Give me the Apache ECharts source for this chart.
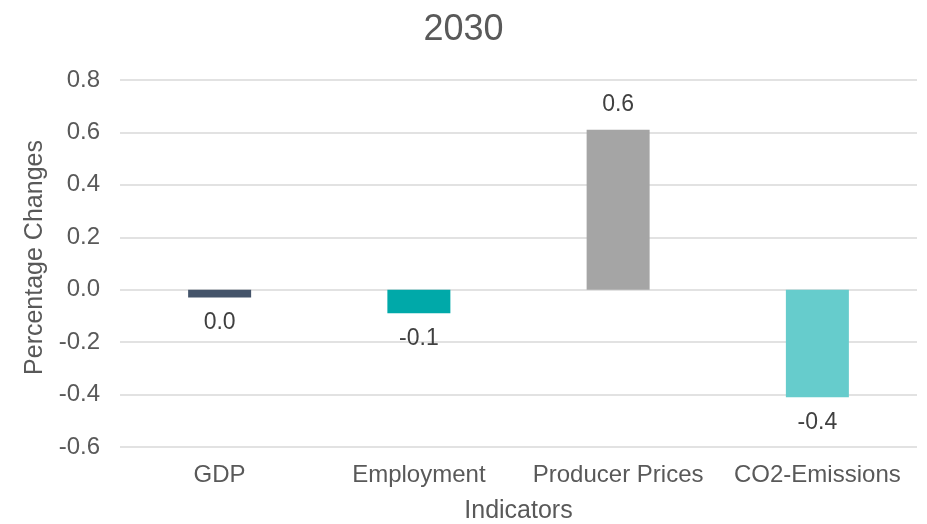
<!DOCTYPE html>
<html>
<head>
<meta charset="utf-8">
<script src="https://cdn.jsdelivr.net/npm/echarts@6/dist/echarts.min.js"></script>
<style>
  html, body { margin: 0; padding: 0; background: #fff; }
  #chart { width: 927px; height: 524px; }
</style>
</head>
<body>
<div id="chart"></div>
<script>
// data
const categories = ['GDP', 'Employment', 'Producer Prices', 'CO2-Emissions']
const values = [-0.03, -0.09, 0.61, -0.41]
const barColors = ['#44546A', '#00A9A9', '#A5A5A5', '#66CCCC']

const myChart = echarts.init(document.getElementById('chart'))
const font = 'Liberation Sans, Arial, sans-serif'

const option = {
  backgroundColor: '#fff',
  title: {
    text: '2030',
    left: 'center',
    top: 7,
    textStyle: { fontFamily: font, fontSize: 36, fontWeight: 'normal', color: '#595959' },
  },
  grid: { left: 120, right: 10, top: 80, bottom: 77, outerBoundsMode: 'none' },
  xAxis: {
    type: 'category',
    data: categories,
    name: 'Indicators',
    nameLocation: 'middle',
    nameGap: 52,
    nameTextStyle: { fontFamily: font, fontSize: 25, color: '#595959' },
    axisLine: { show: false },
    axisTick: { show: false },
    axisLabel: { fontFamily: font, fontSize: 24, color: '#595959', margin: 16, interval: 0 },
  },
  yAxis: {
    type: 'value',
    min: -0.6,
    max: 0.8,
    interval: 0.2,
    name: 'Percentage Changes',
    nameLocation: 'middle',
    nameGap: 69,
    nameTextStyle: { fontFamily: font, fontSize: 25, color: '#595959', padding: [0, 0, 0, 12] },
    axisLine: { show: false },
    axisTick: { show: false },
    axisLabel: {
      fontFamily: font, fontSize: 24, color: '#595959', margin: 20,
      formatter: (v) => v.toFixed(1),
    },
    splitLine: { lineStyle: { color: '#D9D9D9', width: 1.5 } },
  },
  series: [
    {
      type: 'bar',
      barWidth: 63,
      data: values.map((v, i) => ({
        value: v,
        itemStyle: { color: barColors[i] },
        label: { position: v >= 0 ? 'top' : 'bottom' },
      })),
      label: {
        show: true,
        distance: 14,
        fontFamily: font,
        fontSize: 23,
        color: '#404040',
        formatter: (p) => (Math.abs(p.value) < 0.05 ? '0.0' : p.value.toFixed(1)),
      },
    },
  ],
}

myChart.setOption(option)
window.addEventListener('resize', function () {
  myChart.resize()
})
</script>
</body>
</html>
